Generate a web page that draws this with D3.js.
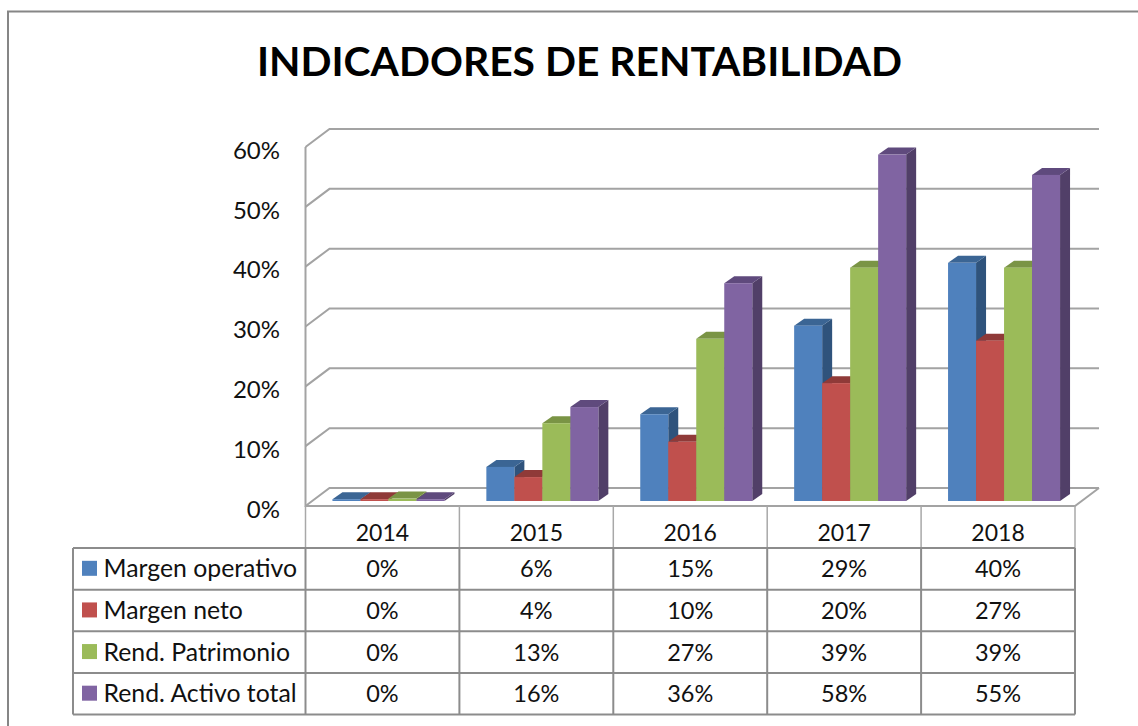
<!DOCTYPE html>
<html><head><meta charset="utf-8">
<style>html,body{margin:0;padding:0;background:#fff}svg{display:block}text{font-family:Lato,"Open Sans",sans-serif;fill:#111}</style>
<script src="https://cdnjs.cloudflare.com/ajax/libs/d3/7.8.5/d3.min.js"></script>
</head><body><svg id="c" width="1138" height="726"></svg>
<script>
const title = "INDICADORES DE RENTABILIDAD";
const years = ["2014","2015","2016","2017","2018"];
const seriesNames = ["Margen operativo","Margen neto","Rend. Patrimonio","Rend. Activo total"];
const margenOperativo = [0.3,5.7,14.5,29.3,39.8];
const margenNeto = [0.3,4.0,9.9,19.7,26.8];
const rendPatrimonio = [0.4,13.0,27.1,39.0,39.0];
const rendActivo = [0.3,15.7,36.4,57.9,54.5];
const tableOperativo = ["0%","6%","15%","29%","40%"];
const tableNeto = ["0%","4%","10%","20%","27%"];
const tablePatrimonio = ["0%","13%","27%","39%","39%"];
const tableActivo = ["0%","16%","36%","58%","55%"];
const yTicks = [0,10,20,30,40,50,60];
const frontColors = ["#4F81BD","#C0504D","#9BBB59","#8064A2"];
const topColors = ["#3B6594","#8F3A38","#7A9445","#5F4A7D"];
const sideColors = ["#2F537C","#7E3230","#6A803B","#513F68"];

const allValues = [margenOperativo,margenNeto,rendPatrimonio,rendActivo];
const allTable = [tableOperativo,tableNeto,tablePatrimonio,tableActivo];

const svg = d3.select("#c");
const plotL = 305.5, plotR = 1075, y0 = 506, yTop = 147, dx = 24, dy = -18;
const x = d3.scaleBand().domain(years).range([plotL,plotR]);
const y = d3.scaleLinear().domain([0,60]).range([y0,yTop]);
const inner = d3.scaleBand().domain(d3.range(4)).range([0,112]);
const barBase = 501, bdx = 10, bdy = -7;
const h = v => y0 - y(v);

// frame
svg.append("path").attr("d","M8,726V11.5H1138").attr("fill","none").attr("stroke","#868686").attr("stroke-width",2);

// title
svg.append("text").attr("x",579.5).attr("y",76).attr("text-anchor","middle")
  .attr("font-size",40.8).attr("font-weight",700).style("fill","#000").text(title);

// walls and gridlines
const grid = svg.append("g").attr("fill","none").attr("stroke","#a3a3a3").attr("stroke-width",2);
yTicks.forEach(t=>{
  grid.append("path").attr("d",`M${plotL},${y(t)}l${dx},${dy}H${plotR+dx}`);
});
grid.append("path").attr("d",`M${plotL},${yTop}V${y0}H${plotR}l${dx},${dy}`);

// y axis
const yAxis = svg.append("g").attr("transform","translate(280,3.5)")
  .call(d3.axisLeft(y).tickValues(yTicks).tickSize(0).tickPadding(0).tickFormat(d=>d+"%"));
yAxis.select(".domain").remove();
yAxis.selectAll("text").attr("font-size",24).style("font-family","Lato,sans-serif");
yAxis.attr("font-family",null);

// bars
years.forEach((yr,i)=>{
  const left = x(yr) + x.bandwidth()/2 + 6 - 56;
  allValues.forEach((vals,s)=>{
    const bx = left + inner(s), w = inner.bandwidth(), ht = h(vals[i]), ty = barBase - ht;
    const g = svg.append("g");
    g.append("path").attr("fill",sideColors[s])
      .attr("d",`M${bx+w},${ty}l${bdx},${bdy}V${barBase+bdy}l${-bdx},${-bdy}Z`);
    g.append("path").attr("fill",topColors[s])
      .attr("d",`M${bx},${ty}l${bdx},${bdy}h${w}l${-bdx},${-bdy}Z`);
    g.append("rect").attr("x",bx).attr("y",ty).attr("width",w).attr("height",ht).attr("fill",frontColors[s]);
  });
});

// data table
const rowY = d3.scaleBand().domain(d3.range(4)).range([548,714.5]);
const tbl = svg.append("g").attr("fill","none");
x.domain().forEach(yr=>{
  tbl.append("line").attr("x1",x(yr)).attr("x2",x(yr)).attr("y1",y0).attr("y2",548).attr("stroke","#a8a8a8").attr("stroke-width",1.5);
});
tbl.append("line").attr("x1",plotR).attr("x2",plotR).attr("y1",y0).attr("y2",548).attr("stroke","#a8a8a8").attr("stroke-width",1.5);
const tLine = "#8c8c8c";
d3.range(5).forEach(r=>{
  const yy = r<4 ? rowY(r) : 714.5;
  tbl.append("line").attr("x1",73).attr("x2",plotR).attr("y1",yy).attr("y2",yy).attr("stroke",tLine).attr("stroke-width",2);
});
[73].concat(years.map(d=>x(d))).concat([plotR]).forEach(xx=>{
  tbl.append("line").attr("x1",xx).attr("x2",xx).attr("y1",548).attr("y2",714.5).attr("stroke",tLine).attr("stroke-width",2);
});
years.forEach(yr=>{
  svg.append("text").attr("x",x(yr)+x.bandwidth()/2).attr("y",541).attr("text-anchor","middle").attr("font-size",23).text(yr);
});
seriesNames.forEach((n,s)=>{
  const ry = rowY(s), cy = ry + rowY.bandwidth()/2;
  svg.append("rect").attr("x",82).attr("y",cy-8).attr("width",15).attr("height",15).attr("fill",frontColors[s]);
  svg.append("text").attr("x",103.5).attr("y",cy+8.5).attr("font-size",24.8).text(n);
  years.forEach((yr,i)=>{
    svg.append("text").attr("x",x(yr)+x.bandwidth()/2).attr("y",cy+8.5).attr("text-anchor","middle").attr("font-size",23.5).text(allTable[s][i]);
  });
});
</script></body></html>
